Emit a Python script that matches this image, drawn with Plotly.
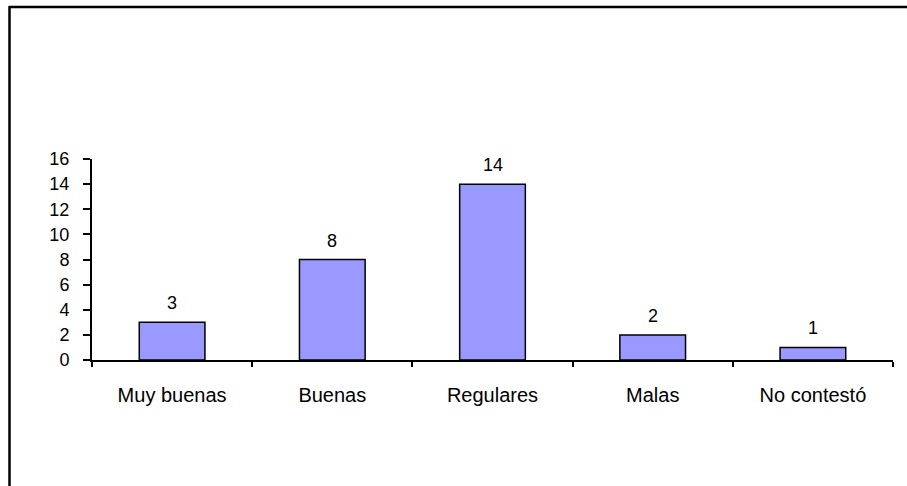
import plotly.graph_objects as go

categorias = ["Muy buenas", "Buenas", "Regulares", "Malas", "No contestó"]
valores = [3, 8, 14, 2, 1]
y_ticks = [0, 2, 4, 6, 8, 10, 12, 14, 16]

W, H = 907, 486
L, R, T, B = 92, 14, 159, 126
pw, ph = W - L - R, H - T - B

font = dict(family="Liberation Sans, Arial", size=18, color="black")
cat_font = dict(family="Liberation Sans, Arial", size=20, color="black")

fig = go.Figure(
    go.Bar(
        x=categorias,
        y=valores,
        width=0.41,
        marker=dict(color="#9999FF", line=dict(color="black", width=1.5)),
    )
)

# value labels above the bars
for c, v in zip(categorias, valores):
    fig.add_annotation(x=c, y=v, text=str(v), showarrow=False,
                       yanchor="bottom", yshift=7, font=font)

fig.update_layout(
    width=W,
    height=H,
    margin=dict(l=L, r=R, t=T, b=B),
    paper_bgcolor="white",
    plot_bgcolor="white",
    showlegend=False,
    font=font,
)
fig.update_xaxes(
    showline=True, linecolor="black", linewidth=2,
    ticks="outside", tickson="boundaries", ticklen=5, tickcolor="black", tickwidth=1.5,
    ticklabelstandoff=16, showgrid=False, tickfont=cat_font,
)
fig.update_yaxes(
    range=[0, 16], tickvals=y_ticks,
    showline=True, linecolor="black", linewidth=2,
    ticks="outside", ticklen=7, tickcolor="black", tickwidth=1.5,
    ticklabelstandoff=10, showgrid=False, zeroline=False, tickfont=font,
)

# chart border (only top and left edges visible)
px_x = lambda v: (v - L) / pw
px_y = lambda v: (H - B - v) / ph
border = dict(color="black", width=2.5)
fig.add_shape(type="line", xref="paper", yref="paper",
              x0=px_x(9), x1=px_x(920), y0=px_y(7), y1=px_y(7), line=border)
fig.add_shape(type="line", xref="paper", yref="paper",
              x0=px_x(9.5), x1=px_x(9.5), y0=px_y(6), y1=px_y(500), line=border)

# drop the default body margin so the figure starts at the window corner
fig.write_html("out.html", config=dict(displayModeBar=False),
               post_script="document.body.style.margin='0px';")
